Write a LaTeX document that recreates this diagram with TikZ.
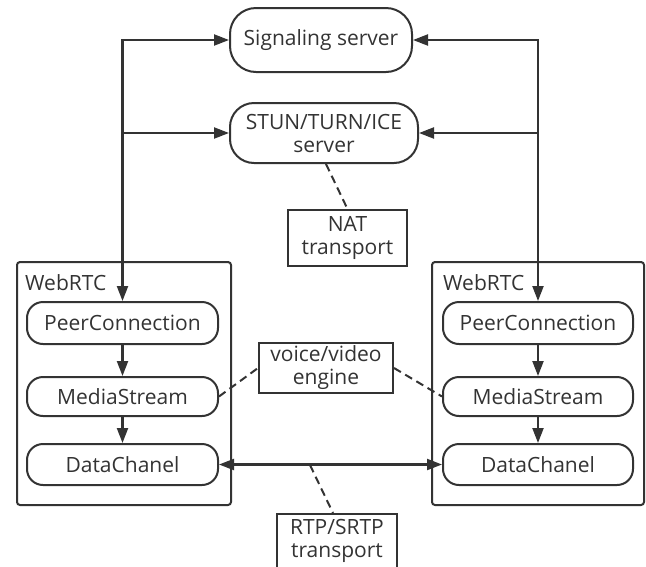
\documentclass[tikz,border=0pt]{standalone}
\usepackage{fontspec}
\setmainfont{Open Sans}
\usetikzlibrary{arrows.meta}
\definecolor{ink}{HTML}{333333}
\tikzset{
  every node/.style={font=\fontsize{21}{23}\selectfont, text=ink, align=center, inner sep=0pt},
  proc/.style={draw=ink, line width=2pt, rounded corners=16pt},
  note/.style={draw=ink, line width=2pt},
  frame/.style={draw=ink, line width=2pt, rounded corners=3pt},
  link/.style={draw=ink, line width=2.2pt, -{Triangle[length=15pt,width=11pt]}},
  dlink/.style={draw=ink, line width=2.2pt, {Triangle[length=15pt,width=11pt]}-{Triangle[length=15pt,width=11pt]}},
  dash line/.style={draw=ink, line width=2pt, dash pattern=on 8pt off 5pt},
}
\begin{document}
\begin{tikzpicture}[x=1pt,y=-1pt]
\useasboundingbox (0,0) rectangle (646,566);
\clip (0,0) rectangle (646,566);

% servers
\node[proc, rounded corners=26pt, minimum width=182pt, minimum height=64pt] (sig) at (321,40) {Signaling server};
\node[proc, rounded corners=24pt, minimum width=188pt, minimum height=60pt] (stun) at (324,133) {STUN/TURN/ICE\\server};
\node[note, minimum width=119pt, minimum height=56pt] (nat) at (347.5,238) {NAT\\transport};

% WebRTC frames
\node[frame, minimum width=214pt, minimum height=243pt] (lframe) at (124,383.5) {};
\node[frame, minimum width=212pt, minimum height=243pt] (rframe) at (538,383.5) {};
\node[anchor=west] (llabel) at (25,283) {WebRTC};
\node[anchor=west] (rlabel) at (443,283) {WebRTC};

% left stack
\node[proc, minimum width=191pt, minimum height=42pt] (lpc) at (122.5,323) {PeerConnection};
\node[proc, minimum width=191pt, minimum height=39pt] (lms) at (122.5,396.5) {MediaStream};
\node[proc, minimum width=191pt, minimum height=41pt] (ldc) at (122.5,464.5) {DataChanel};

% right stack
\node[proc, minimum width=190pt, minimum height=42pt] (rpc) at (538,323) {PeerConnection};
\node[proc, minimum width=190pt, minimum height=39pt] (rms) at (538,396.5) {MediaStream};
\node[proc, minimum width=190pt, minimum height=41pt] (rdc) at (538,464.5) {DataChanel};

% shared notes
\node[note, minimum width=134pt, minimum height=50pt] (voice) at (326,368) {voice/video\\engine};
\node[note, minimum width=120pt, minimum height=54pt] (rtp) at (337,541) {RTP/SRTP\\transport};

% signaling and ICE paths
\draw[dlink] (sig.west) -| (lpc.north);
\draw[dlink] (sig.east) -| (rpc.north);
\draw[link] (stun.west -| lpc.north) -- (stun.west);
\draw[link] (stun.east -| rpc.north) -- (stun.east);

% internal flow
\draw[link] (lpc) -- (lms);
\draw[link] (lms) -- (ldc);
\draw[link] (rpc) -- (rms);
\draw[link] (rms) -- (rdc);

% peer-to-peer data
\draw[dlink] (ldc.east) -- (rdc.west);

% dashed annotations
\coordinate (tap) at (310,465);
\draw[dash line] ([xshift=2pt]stun.south) -- (nat.north);
\draw[dash line] (lms.east) -- (voice.west);
\draw[dash line] (voice.east) -- (rms.west);
\draw[dash line] (tap) -- ([xshift=-4pt]rtp.north);
\end{tikzpicture}
\end{document}
